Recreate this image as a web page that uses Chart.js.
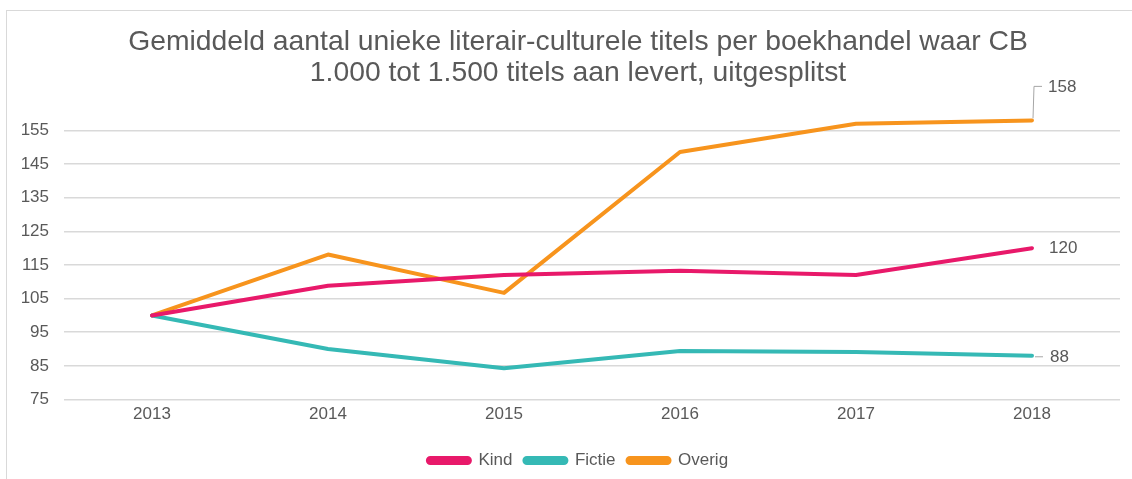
<!DOCTYPE html>
<html>
<head>
<meta charset="utf-8">
<script src="https://cdn.jsdelivr.net/npm/chart.js@4.4.0/dist/chart.umd.min.js"></script>
<style>
    body { margin: 0; background: #fff; overflow: hidden; }
    #wrap { position: relative; width: 1132px; height: 479px; }
    #frame {
        position: absolute; left: 6px; top: 10px; width: 1200px; height: 600px;
        border-left: 1px solid #d9d9d9; border-top: 1px solid #d9d9d9;
    }
    canvas { position: absolute; left: 0; top: 0; }
</style>
</head>
<body>
<div id="wrap">
    <div id="frame"></div>
    <canvas id="chart" width="1132" height="479"></canvas>
</div>
<script>
const years = ["2013", "2014", "2015", "2016", "2017", "2018"];
const kind = [100, 108.8, 112, 113.3, 112, 120];
const fictie = [100, 90, 84.3, 89.4, 89.1, 88];
const overig = [100, 118.1, 106.7, 148.6, 157, 158];
const yTicks = [75, 85, 95, 105, 115, 125, 135, 145, 155];
const lastLabels = ["120", "88", "158"];

const textColor = "#595959";
const fontFamily = "'Liberation Sans', Arial, sans-serif";

// labels at the end of each line (with small leader lines like Excel)
const endLabels = {
    id: "endLabels",
    afterLayout(chart) {
        // let the y tick labels use the left padding instead of being clipped
        chart.scales.y.left = 6;
    },
    afterDatasetsDraw(chart) {
        const ctx = chart.ctx;
        ctx.save();
        ctx.font = "17px " + fontFamily;
        ctx.fillStyle = textColor;
        ctx.textBaseline = "middle";
        ctx.strokeStyle = "#a6a6a6";
        ctx.lineWidth = 1;
        chart.data.datasets.forEach((ds, i) => {
            const pt = chart.getDatasetMeta(i).data[ds.data.length - 1];
            const txt = lastLabels[i];
            if (ds.label === "Overig") {
                ctx.beginPath();
                ctx.moveTo(pt.x + 1, pt.y - 2);
                ctx.lineTo(pt.x + 2, pt.y - 34);
                ctx.lineTo(pt.x + 10, pt.y - 34);
                ctx.stroke();
                ctx.fillText(txt, pt.x + 16, pt.y - 33);
            } else if (ds.label === "Fictie") {
                ctx.beginPath();
                ctx.moveTo(pt.x + 3, pt.y + 1);
                ctx.lineTo(pt.x + 11, pt.y + 1);
                ctx.stroke();
                ctx.fillText(txt, pt.x + 18, pt.y + 2);
            } else {
                ctx.fillText(txt, pt.x + 17, pt.y);
            }
        });
        ctx.restore();
    }
};

const lineStyle = (label, data, color) => ({
    label: label,
    data: data,
    borderColor: color,
    backgroundColor: color,
    borderWidth: 4,
    pointRadius: 0,
    tension: 0,
    borderJoinStyle: "round",
    borderCapStyle: "round"
});

new Chart(document.getElementById("chart"), {
    type: "line",
    data: {
        labels: years,
        datasets: [
            lineStyle("Kind", kind, "#e8196a"),
            lineStyle("Fictie", fictie, "#35b9b5"),
            lineStyle("Overig", overig, "#f7941d")
        ]
    },
    options: {
        responsive: false,
        animation: false,
        layout: { padding: { left: 36, right: 12, top: 10, bottom: 0 } },
        plugins: {
            title: {
                display: true,
                text: ["Gemiddeld aantal unieke literair-culturele titels per boekhandel waar CB",
                       "1.000 tot 1.500 titels aan levert, uitgesplitst"],
                color: textColor,
                font: { family: fontFamily, size: 28.3, weight: "normal", lineHeight: 1.1 },
                padding: { top: 16.8, bottom: 24.6 }
            },
            legend: {
                position: "bottom",
                labels: {
                    color: textColor,
                    font: { family: fontFamily, size: 17, lineHeight: 1 },
                    boxWidth: 42,
                    boxHeight: 5,
                    useBorderRadius: true,
                    borderRadius: 2.5,
                    padding: 12
                }
            },
            tooltip: { enabled: false }
        },
        scales: {
            x: {
                offset: true,
                grid: { display: false, drawTicks: false },
                border: { display: false },
                ticks: { color: textColor, font: { family: fontFamily, size: 17 }, padding: 5 },
                afterFit(scale) {
                    scale.height = 40.5;
                }
            },
            y: {
                min: 75,
                max: 160,
                afterBuildTicks(scale) {
                    scale.ticks = yTicks.map(v => ({ value: v }));
                },
                afterFit(scale) {
                    scale.width = 28;
                },
                grid: { color: "#d9d9d9", lineWidth: 1.5, drawTicks: false },
                border: { display: false },
                ticks: { color: textColor, font: { family: fontFamily, size: 17 }, padding: 15 }
            }
        }
    },
    plugins: [endLabels]
});
</script>
</body>
</html>
